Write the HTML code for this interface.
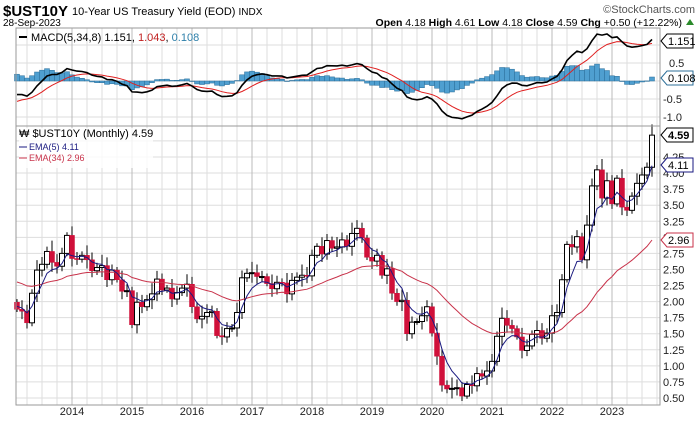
<!DOCTYPE html>
<html><head><meta charset="utf-8"><style>
body{margin:0;background:#fff;}
svg{display:block;font-family:"Liberation Sans",sans-serif;}
</style></head><body>
<svg id="c" width="700" height="421" xmlns="http://www.w3.org/2000/svg"></svg>
<script>
const closes=[1.88,1.85,1.67,2.13,2.49,2.58,2.78,2.61,2.55,2.75,3.03,
2.67,2.66,2.72,2.65,2.48,2.53,2.56,2.34,2.49,2.34,2.16,2.17,
1.64,1.99,1.92,2.03,2.12,2.35,2.18,2.21,2.04,2.14,2.21,2.27,
1.92,1.73,1.77,1.83,1.85,1.47,1.45,1.58,1.59,1.83,2.37,2.44,
2.45,2.39,2.39,2.28,2.20,2.30,2.29,2.12,2.33,2.38,2.41,2.40,
2.72,2.86,2.74,2.95,2.83,2.85,2.96,2.86,3.06,3.14,2.99,2.69,
2.63,2.72,2.41,2.51,2.13,2.00,2.02,1.50,1.68,1.69,1.78,1.92,
1.51,1.15,0.70,0.64,0.65,0.66,0.53,0.71,0.69,0.88,0.84,0.92,
1.07,1.46,1.74,1.63,1.58,1.45,1.24,1.31,1.49,1.55,1.43,1.51,
1.78,1.83,2.34,2.89,2.85,3.01,2.65,3.19,3.80,4.05,3.61,3.88,
3.52,3.92,3.47,3.42,3.64,3.84,3.97,4.09,4.59];
let s='';
const py=v=>398-(v-0.5)*64.27, my=v=>81-v*36, X=i=>17+i*5;
// grid
for(let v=0.5;v<=4.51;v+=0.25)s+=`<line x1="16" x2="660" y1="${py(v)}" y2="${py(v)}" stroke="#ddd"/>`;
for(let v=-1;v<=1.01;v+=0.5)s+=`<line x1="16" x2="660" y1="${my(v)}" y2="${my(v)}" stroke="#ddd"/>`;
for(let x=12;x<660;x+=15){if(x<16)continue;const yr=((x-12)%60===0);
s+=`<line x1="${x}" x2="${x}" y1="28" y2="405" stroke="${yr?'#bbb':'#ddd'}"/>`;}
// compute
let e5=1.95,e34=2.33,sig=-0.62,E5=[],E34=[],M=[],S=[];
let prev=1.99;
closes.forEach((c,i)=>{e5+=(c-e5)*2/6;e34+=(c-e34)*2/35;const m=e5-e34;sig+=(m-sig)*2/9;E5.push(e5);E34.push(e34);M.push(m);S.push(sig);});
// histogram
closes.forEach((c,i)=>{const h=M[i]-S[i];const y0=my(0),y1=my(h);
s+=`<rect x="${X(i)-2.5}" y="${Math.min(y0,y1)}" width="5" height="${Math.max(0.5,Math.abs(y1-y0))}" fill="#4f9fd0" stroke="#2d6f99" stroke-width="0.5"/>`;});
const pl=(arr,f)=>arr.map((v,i)=>`${X(i)},${f(v).toFixed(1)}`).join(' ');
s+=`<polyline points="${pl(S,my)}" fill="none" stroke="#e02020" stroke-width="1"/>`;
s+=`<polyline points="${pl(M,my)}" fill="none" stroke="#000" stroke-width="1.6"/>`;
// candles
closes.forEach((c,i)=>{const o=prev;prev=c;const w=0.06+((i*37)%10)/60;
const hi=Math.max(o,c)+w*0.8,lo=Math.min(o,c)-w*0.7;const x=X(i);
s+=`<line x1="${x}" x2="${x}" y1="${py(hi)}" y2="${py(lo)}" stroke="#000"/>`;
const t=py(Math.max(o,c)),b=py(Math.min(o,c));
if(c>=o)s+=`<rect x="${x-2.5}" y="${t}" width="5" height="${Math.max(1,b-t)}" fill="#fff" stroke="#000"/>`;
else s+=`<rect x="${x-2.5}" y="${t}" width="5" height="${Math.max(1,b-t)}" fill="#d0103a" stroke="#d0103a" stroke-width="0.5"/>`;});
s+=`<polyline points="${pl(E34,py)}" fill="none" stroke="#c8324a" stroke-width="1"/>`;
s+=`<polyline points="${pl(E5,py)}" fill="none" stroke="#1a1a80" stroke-width="1"/>`;
// panels
s+=`<rect x="16" y="28" width="644" height="98" fill="none" stroke="#999"/><rect x="16" y="126" width="644" height="279" fill="none" stroke="#999"/>`;
// axis labels
for(let v=0.5;v<=4.26;v+=0.25)s+=`<text x="663" y="${py(v)+4}" font-size="11" fill="#222">${v.toFixed(2)}</text>`;
[[0.5,'0.5'],[-0.5,'-0.5'],[-1,'-1.0']].forEach(([v,t])=>s+=`<text x="${v<0?663:669}" y="${my(v)+4}" font-size="11" fill="#222">${t}</text>`);
for(let y=2014;y<=2023;y++)s+=`<text x="${72+(y-2014)*60}" y="415" font-size="11" text-anchor="middle" fill="#222">${y}</text>`;
const tag=(y,t,col,bold)=>`<path d="M661 ${y} l6 -7 h26 v14 h-26z" fill="#fff" stroke="${col}"/><text x="668" y="${y+4}" font-size="11" ${bold?'font-weight="bold"':''} fill="#000">${t}</text>`;
s+=tag(41,'1.151','#000')+tag(78,'0.108','#2d6f99')+tag(135,'4.59','#000',1)+tag(165,'4.11','#1a1a80')+tag(240,'2.96','#c8324a');
// headers
s+=`<text x="3" y="16" font-size="15" font-weight="bold">$UST10Y</text><text x="72" y="15" font-size="11">10-Year US Treasury Yield (EOD) <tspan font-size="10">INDX</tspan></text>`;
s+=`<text x="3" y="26" font-size="10">28-Sep-2023</text>`;
s+=`<text x="695" y="13" font-size="11" text-anchor="end" fill="#555">©StockCharts.com</text>`;
s+=`<text x="682" y="26" font-size="10.5" text-anchor="end"><tspan font-weight="bold">Open</tspan> 4.18  <tspan font-weight="bold">High</tspan> 4.61  <tspan font-weight="bold">Low</tspan> 4.18  <tspan font-weight="bold">Close</tspan> 4.59  <tspan font-weight="bold">Chg</tspan> +0.50 (+12.22%)</text><path d="M686 25 l4 -6 l4 6z" fill="#2a8a2a"/>`;
s+=`<line x1="19" x2="27" y1="37" y2="37" stroke="#000" stroke-width="2"/><text x="31" y="41" font-size="11">MACD(5,34,8) 1.151, <tspan fill="#c02020">1.043</tspan>, <tspan fill="#2d7fa9">0.108</tspan></text>`;
s+=`<rect x="19" y="128" width="134" height="40" fill="#fff" opacity="0.8"/><text x="19" y="137" font-size="11">₩ $UST10Y (Monthly) 4.59</text>`;
s+=`<line x1="19" x2="27" y1="147" y2="147" stroke="#1a1a80"/><text x="29" y="150" font-size="9" fill="#1a1a80">EMA(5) 4.11</text>`;
s+=`<line x1="19" x2="27" y1="158" y2="158" stroke="#c8324a"/><text x="29" y="161" font-size="9" fill="#c8324a">EMA(34) 2.96</text>`;
document.getElementById('c').innerHTML=s;
</script>
</body></html>
